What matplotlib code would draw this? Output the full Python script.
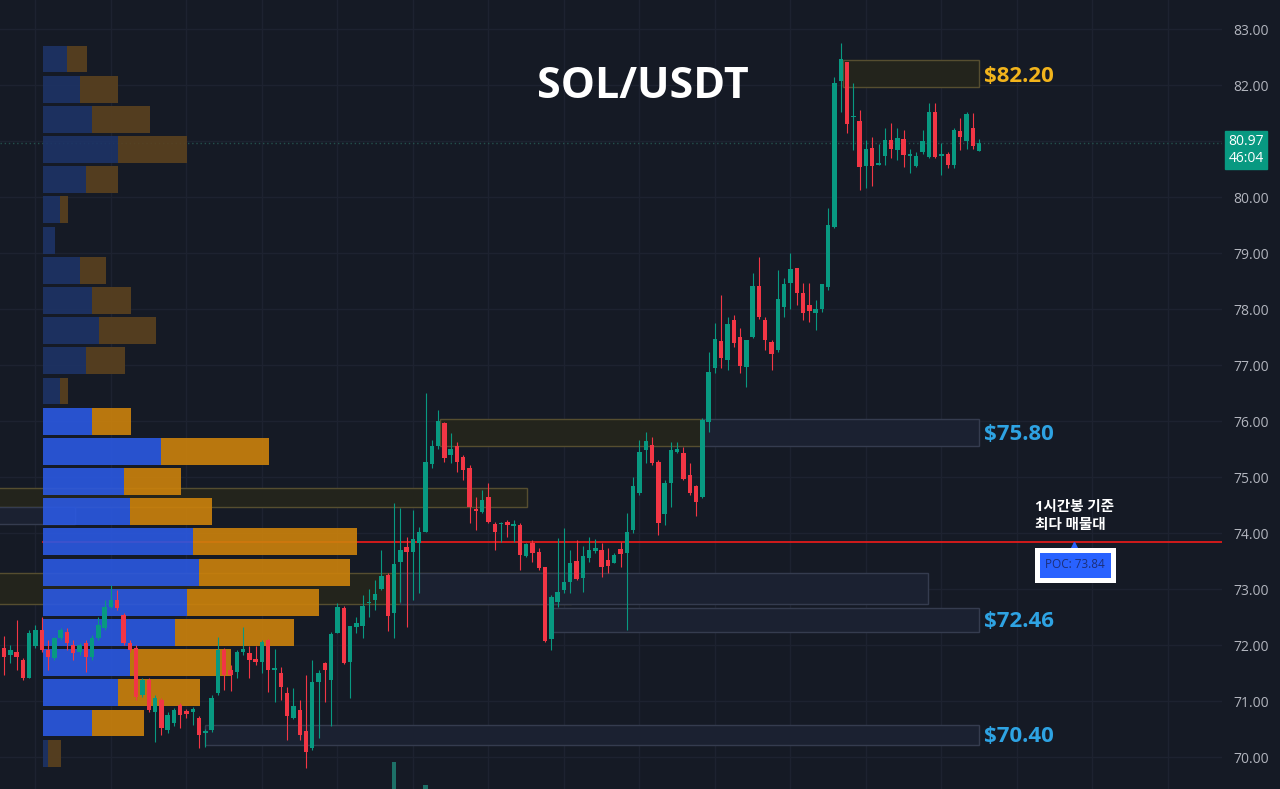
"""SOL/USDT 1시간봉 캔들 + 매물대(볼륨 프로파일) 차트 재현."""

import matplotlib
matplotlib.use('Agg')
import matplotlib.pyplot as plt
from matplotlib import transforms

plt.rcParams['font.family'] = ['Open Sans', 'Noto Sans CJK KR', 'DejaVu Sans']

# 1시간봉 OHLC
OPEN = [71.94, 71.82, 71.87, 71.73, 71.41, 71.98, 72.27, 71.91, 71.77, 72.13,
        72.23, 72.00, 71.88, 72.04, 71.79, 72.13, 72.30, 72.68, 72.80, 72.54,
        72.04, 71.95, 71.11, 71.38, 70.80, 71.02, 70.48, 70.61, 70.93, 70.82,
        70.80, 70.70, 70.43, 70.48, 71.14, 71.91, 71.55, 71.52, 71.88, 71.86,
        71.75, 71.70, 72.09, 71.55, 71.50, 71.14, 70.70, 70.84, 70.46, 70.16,
        71.34, 71.68, 71.38, 72.21, 72.66, 71.70, 72.32, 72.34, 72.75, 72.80,
        73.00, 73.25, 72.57, 73.48, 73.75, 73.66, 73.82, 74.02, 75.23, 75.55,
        75.96, 75.39, 75.55, 75.36, 75.16, 74.43, 74.38, 74.64, 74.16, 74.16,
        74.20, 74.13, 74.14, 73.59, 73.82, 73.66, 73.39, 72.11, 72.77, 72.98,
        73.13, 73.50, 73.20, 73.55, 73.68, 73.70, 73.52, 73.46, 73.71, 73.64,
        74.05, 74.71, 75.48, 75.57, 75.27, 74.34, 74.89, 75.45, 75.43, 75.04,
        74.84, 74.64, 75.98, 76.95, 77.43, 77.09, 77.80, 77.50, 76.96, 77.50,
        78.41, 77.80, 77.41, 77.27, 78.04, 78.46, 78.73, 78.29, 78.07, 77.93,
        78.00, 78.39, 79.46, 82.07, 82.41, 81.43, 81.36, 80.55, 80.88, 80.58,
        80.73, 81.02, 80.84, 81.04, 80.73, 80.55, 80.80, 80.71, 81.52, 80.73,
        80.77, 80.57, 81.18, 81.00, 81.23, 80.82]
HIGH = [72.16, 72.00, 72.45, 71.77, 72.27, 72.36, 72.50, 72.09, 72.14, 72.30,
        72.30, 72.09, 72.04, 72.09, 72.18, 72.50, 72.80, 73.07, 72.98, 72.57,
        72.09, 72.00, 71.41, 71.41, 71.11, 71.05, 70.80, 70.88, 70.96, 70.86,
        70.89, 70.73, 70.50, 71.11, 72.14, 71.95, 71.64, 71.91, 72.32, 71.98,
        71.98, 72.09, 72.11, 71.93, 71.61, 71.25, 71.23, 71.02, 71.46, 71.73,
        71.55, 71.70, 72.23, 72.75, 72.70, 72.34, 72.50, 72.89, 73.00, 73.16,
        73.70, 73.29, 74.54, 74.45, 73.93, 74.41, 74.11, 76.50, 75.66, 76.20,
        75.98, 75.79, 75.63, 75.39, 75.21, 74.64, 74.77, 74.89, 74.20, 74.20,
        74.23, 74.23, 74.18, 73.82, 73.88, 73.73, 73.39, 72.89, 73.91, 74.09,
        73.70, 73.88, 73.77, 73.93, 73.89, 73.82, 73.73, 73.64, 73.84, 74.36,
        75.00, 75.66, 75.80, 75.71, 75.30, 74.95, 75.63, 75.63, 75.54, 75.25,
        74.86, 76.05, 77.23, 77.75, 78.25, 77.86, 77.89, 77.66, 77.45, 78.64,
        78.93, 77.86, 77.45, 78.70, 78.55, 79.00, 78.73, 78.46, 78.46, 78.16,
        78.45, 79.80, 82.14, 82.75, 82.41, 82.04, 81.55, 81.02, 81.07, 80.95,
        81.23, 81.32, 81.23, 81.20, 80.86, 80.80, 81.20, 81.68, 81.68, 80.96,
        80.80, 81.23, 81.41, 81.52, 81.50, 81.04]
LOW = [71.46, 71.68, 71.55, 71.38, 71.41, 71.95, 71.88, 71.55, 71.73, 72.09,
       71.91, 71.73, 71.82, 71.52, 71.73, 72.09, 72.27, 72.66, 72.63, 72.00,
       71.88, 71.02, 71.07, 70.80, 70.27, 70.39, 70.43, 70.55, 70.52, 70.70,
       70.57, 70.16, 70.18, 70.45, 71.11, 71.20, 71.18, 71.41, 71.82, 71.41,
       71.64, 71.50, 71.16, 70.98, 71.02, 70.30, 70.68, 70.30, 69.80, 70.13,
       70.34, 70.98, 70.55, 72.21, 71.66, 71.05, 72.21, 72.13, 72.50, 72.62,
       72.98, 72.25, 72.13, 72.77, 72.32, 72.80, 72.93, 74.02, 75.16, 75.50,
       75.27, 75.25, 75.09, 74.95, 74.18, 74.05, 74.36, 74.18, 73.70, 73.84,
       73.93, 73.84, 73.34, 73.57, 73.48, 73.34, 72.05, 71.91, 72.68, 72.93,
       72.93, 73.16, 72.95, 73.48, 73.64, 73.21, 73.29, 73.46, 73.39, 72.27,
       74.00, 74.68, 75.25, 75.21, 73.96, 74.14, 74.46, 75.43, 74.95, 74.68,
       74.30, 74.62, 75.80, 76.86, 76.95, 76.91, 77.32, 76.86, 76.61, 77.48,
       77.82, 77.27, 76.91, 77.23, 77.86, 78.00, 78.07, 77.80, 77.77, 77.63,
       77.95, 78.34, 79.45, 81.52, 81.14, 80.84, 80.13, 80.16, 80.20, 80.57,
       80.57, 80.70, 80.66, 80.54, 80.43, 80.54, 80.77, 80.70, 80.70, 80.39,
       80.52, 80.52, 80.84, 80.86, 80.86, 80.82]
CLOSE = [71.79, 71.91, 71.79, 71.41, 72.21, 72.27, 71.91, 71.79, 72.13, 72.27,
         72.04, 71.86, 72.00, 71.79, 72.13, 72.36, 72.68, 72.80, 72.66, 72.04,
         71.91, 71.07, 71.38, 70.84, 71.05, 70.52, 70.75, 70.84, 70.75, 70.77,
         70.86, 70.39, 70.46, 71.05, 71.91, 71.46, 71.46, 71.88, 71.93, 71.73,
         71.70, 72.05, 71.55, 71.59, 71.25, 70.73, 70.91, 70.39, 70.09, 71.34,
         71.50, 71.55, 72.20, 72.68, 71.68, 72.34, 72.39, 72.70, 72.77, 72.91,
         73.23, 72.52, 73.45, 73.70, 73.66, 73.90, 74.02, 75.27, 75.55, 76.00,
         75.34, 75.50, 75.27, 75.13, 74.46, 74.39, 74.59, 74.20, 74.02, 74.18,
         74.14, 74.16, 73.61, 73.80, 73.64, 73.38, 72.07, 72.86, 72.95, 73.13,
         73.46, 73.18, 73.59, 73.70, 73.73, 73.39, 73.41, 73.61, 73.63, 74.02,
         74.84, 75.45, 75.64, 75.25, 74.18, 74.89, 75.48, 75.50, 74.96, 74.71,
         74.55, 76.02, 76.88, 77.46, 77.13, 77.73, 77.39, 76.98, 77.45, 78.41,
         77.86, 77.45, 77.20, 78.18, 78.45, 78.71, 78.29, 77.93, 77.96, 78.00,
         78.45, 79.50, 82.04, 82.46, 81.30, 81.45, 80.54, 80.86, 80.55, 80.61,
         81.02, 80.86, 81.05, 80.75, 80.77, 80.73, 81.00, 81.52, 80.71, 80.77,
         80.57, 81.20, 81.07, 81.48, 80.91, 80.97]

# 거래량 (하단에 끝부분만 보이는 큰 봉 두 개)
VOL_INDEX = [62, 67]
VOL_SIZE = [1.5, 0.2]

# 볼륨 프로파일 (아래 -> 위), 매수/매도 거래량
PROFILE_LOW = 69.80
PROFILE_STEP = 0.539
BUY_VOL = [5, 49, 75, 87, 132, 144, 156, 150, 87, 81, 118, 49,
           17, 43, 56, 49, 37, 12, 17, 43, 75, 49, 37, 24]
SELL_VOL = [13, 52, 82, 101, 119, 132, 151, 164, 82, 57, 108, 39,
            8, 39, 57, 39, 26, 0, 8, 32, 69, 58, 38, 20]
VALUE_AREA = (1, 11)

# 지지/저항 구간
ZONE_LO = [81.96, 75.55, 75.55, 74.46, 74.16, 72.73, 72.73, 72.23, 70.21]
ZONE_HI = [82.45, 76.04, 76.04, 74.80, 74.46, 73.28, 73.28, 72.66, 70.57]
ZONE_START = [133.4, 69.3, 111.0, -1.0, -1.0, -1.0, 63.0, 87.0, 32.0]
ZONE_END = [154.9, 111.0, 154.9, 83.1, 11.3, 90.1, 146.9, 154.9, 154.9]
ZONE_KIND = ['olive', 'olive', 'blue', 'olive', 'blue', 'olive', 'blue', 'blue', 'blue']

LEVEL_PRICE = [82.20, 75.80, 72.46, 70.40]
LEVEL_COLOR = ['#f2b41c', '#2ea3e3', '#2ea3e3', '#2ea3e3']

LAST_PRICE = 80.97
COUNTDOWN = '46:04'
PRICE_TICKS = [70, 71, 72, 73, 74, 75, 76, 77, 78, 79, 80, 82, 83]

BG = '#151a25'
UP = '#089981'
DOWN = '#f23645'
GRID = '#1d2230'

fig = plt.figure(figsize=(12.8, 7.89), dpi=100, facecolor=BG)
ax = fig.add_axes([0, 0, 1222 / 1280, 1])
ax.set_facecolor(BG)
ax.set_xlim(-0.64, 193.6)
ax.set_ylim(69.43, 83.52)

# 그리드
for gx in range(5, 194, 12):
    ax.axvline(gx, color=GRID, lw=1, zorder=0.5)
for gy in range(70, 84):
    ax.axhline(gy, color=GRID, lw=1, zorder=0.5)

# 구간 박스
zone_style = {
    'olive': dict(facecolor='#23241c', edgecolor='#564e30'),
    'blue': dict(facecolor='#1b2131', edgecolor='#353c4f'),
}
for lo, hi, x0, x1, kind in zip(ZONE_LO, ZONE_HI, ZONE_START, ZONE_END, ZONE_KIND):
    ax.bar(x0, hi - lo, width=x1 - x0, bottom=lo, align='edge',
           lw=1, zorder=1, **zone_style[kind])

for price, color in zip(LEVEL_PRICE, LEVEL_COLOR):
    ax.text(155.7, price - 0.04, f'${price:.2f}', color=color, fontsize=16,
            fontweight='bold', va='center', ha='left', zorder=6)

# 현재가 점선
ax.axhline(LAST_PRICE, color='#24504d', lw=1, ls=(0, (1, 2)), zorder=0.8)

# 볼륨 프로파일
totals = [b + s for b, s in zip(BUY_VOL, SELL_VOL)]
poc_row = totals.index(max(totals))
poc_price = PROFILE_LOW + (poc_row + 0.5) * PROFILE_STEP

ax.axhline(poc_price, xmin=43 / 1222, color='#e01b1b', lw=1.3, zorder=2)

vp = transforms.blended_transform_factory(ax.transAxes, ax.transData)
vp_left = 43 / 1222
vp_scale = 1 / 1222
for i, (b, s) in enumerate(zip(BUY_VOL, SELL_VOL)):
    y = PROFILE_LOW + (i + 0.5) * PROFILE_STEP
    inside = VALUE_AREA[0] <= i <= VALUE_AREA[1]
    blue = '#2b59e2' if inside else '#1d3366'
    orange = '#cc820c' if inside else '#5a411f'
    ax.barh(y, b * vp_scale, left=vp_left, height=PROFILE_STEP * 0.89,
            color=blue, alpha=0.9, lw=0, transform=vp, zorder=3)
    ax.barh(y, s * vp_scale, left=vp_left + b * vp_scale,
            height=PROFILE_STEP * 0.89, color=orange, alpha=0.9, lw=0,
            transform=vp, zorder=3)

# 거래량 봉
vol_tr = transforms.blended_transform_factory(ax.transData, ax.transAxes)
ax.bar(VOL_INDEX, [v * 0.0228 for v in VOL_SIZE], width=0.75, bottom=0,
       color='#1d7067', transform=vol_tr, zorder=3.5)

# 캔들
idx = list(range(len(OPEN)))
colors = [UP if c >= o else DOWN for o, c in zip(OPEN, CLOSE)]
ax.vlines(idx, LOW, HIGH, colors=colors, lw=0.8, zorder=4)
bottoms = [min(o, c) for o, c in zip(OPEN, CLOSE)]
heights = [max(abs(c - o), 0.025) for o, c in zip(OPEN, CLOSE)]
ax.bar(idx, heights, bottom=bottoms, width=0.7, color=colors, lw=0, zorder=4.5)

# POC 라벨
ax.plot(170.0, poc_price - 0.08, marker='^', ms=6, color='#2962ff', zorder=6)
ax.text(170.2, poc_price - 0.41, f'POC: {poc_price:.2f}', fontsize=8.5,
        color='#1c2f7a', ha='center', va='center', zorder=6,
        bbox=dict(boxstyle='square,pad=0.7', facecolor='#2962ff',
                  edgecolor='white', lw=3.6))
ax.text(163.9, poc_price + 0.46, '1시간봉 기준\n최다 매물대', fontsize=10.5,
        fontweight='bold', color='white', ha='left', va='center',
        linespacing=1.35, zorder=6)

# 제목
fig.text(643 / 1280, 1 - 86 / 789, 'SOL/USDT', fontsize=31, fontweight='bold',
         color='white', ha='center', va='center')

# 가격축 (81.00은 현재가 박스에 가려짐)
ax.yaxis.tick_right()
ax.set_yticks(PRICE_TICKS)
ax.set_yticklabels([f'{v:.2f}' for v in PRICE_TICKS])
ax.tick_params(axis='y', length=0, pad=8, labelcolor='#b2b5be', labelsize=10)
ax.set_xticks([])
for spine in ax.spines.values():
    spine.set_visible(False)

fig.text(1246 / 1280, 1 - 150 / 789, f'{LAST_PRICE:.2f}\n{COUNTDOWN}',
         fontsize=10, color='white', ha='center', va='center', linespacing=1.1,
         bbox=dict(boxstyle='square,pad=0.22', facecolor=UP, edgecolor=UP))

fig.savefig('out.png', dpi=100, facecolor=BG)
